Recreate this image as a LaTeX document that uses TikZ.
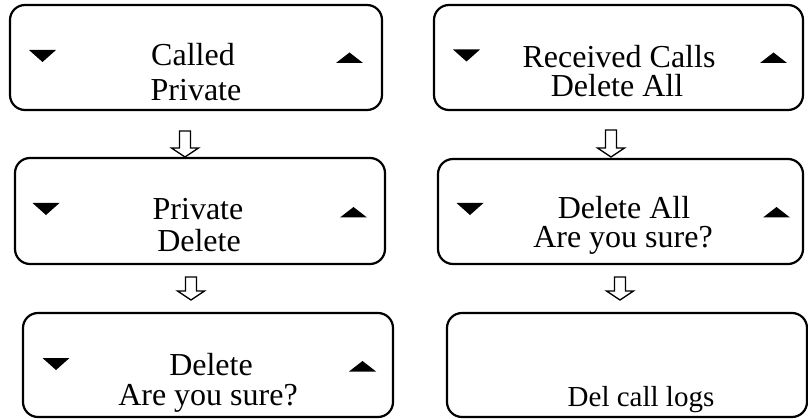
\documentclass[tikz,border=0pt]{standalone}
\usepackage{fontspec}
\setmainfont{Liberation Serif}
\begin{document}
\begin{tikzpicture}[x=1pt,y=-1pt,
  screen/.style={draw=black, line width=2.2pt, rounded corners=15pt, inner sep=0pt, outer sep=0pt},
  txt/.style={anchor=base, inner sep=0pt, font=\fontsize{32}{38}\selectfont},
  smalltxt/.style={anchor=base, inner sep=0pt, font=\fontsize{29}{34}\selectfont},
  arrline/.style={draw=black, line width=1.3pt, fill=white, line join=miter},
  pics/downtri/.style={code={\fill[black] (-13.5,-6) -- (13.5,-6) -- (0,6) -- cycle;}},
  pics/uptri/.style={code={\fill[black] (-13.5,5) -- (13.5,5) -- (0,-5.5) -- cycle;}},
  pics/downarr/.style={code={\draw[arrline] (-5.5,0) -- (5.5,0) -- (5.5,#1-9) -- (13.5,#1-9) -- (0,#1) -- (-13.5,#1-9) -- (-5.5,#1-9) -- cycle;}}
]
\useasboundingbox (0,0) rectangle (808,419);

% Row 1
\node[screen, minimum width=372pt, minimum height=105pt] (b1) at (196,57.5) {};
\node[screen, minimum width=369pt, minimum height=105pt] (b2) at (618.5,57.5) {};
% Row 2
\node[screen, minimum width=370pt, minimum height=106pt] (b3) at (200,211) {};
\node[screen, minimum width=365pt, minimum height=105pt] (b4) at (620.5,211.5) {};
% Row 3
\node[screen, minimum width=370pt, minimum height=104pt] (b5) at (208,365) {};
\node[screen, minimum width=360pt, minimum height=104pt] (b6) at (627,365) {};

% Texts
\node[txt] (t1a) at (193,66) {Called};
\node[txt] (t1b) at (196,101) {Private};
\node[txt] (t2a) at (619,68) {Received Calls};
\node[txt] (t2b) at (617,97) {Delete All};
\node[txt] (t3a) at (198,220) {Private};
\node[txt] (t3b) at (199,252) {Delete};
\node[txt] (t4a) at (624,219) {Delete All};
\node[txt] (t4b) at (623,248) {Are you sure?};
\node[txt] (t5a) at (211,375) {Delete};
\node[txt] (t5b) at (208,405) {Are you sure?};
\node[smalltxt] (t6a) at (641,406) {Del call logs};

% Triangles
\pic at (42.5,56) {downtri};
\pic at (349.5,58) {uptri};
\pic at (466.5,55.5) {downtri};
\pic at (773.5,58) {uptri};
\pic at (46,209) {downtri};
\pic at (353.5,212.5) {uptri};
\pic at (470,209) {downtri};
\pic at (776.5,212.5) {uptri};
\pic at (56,364) {downtri};
\pic at (362.5,366.5) {uptri};

% Block arrows
\pic at (185,131) {downarr=26};
\pic at (611,130) {downarr=27};
\pic at (191,277) {downarr=23};
\pic at (620,277) {downarr=23};
\end{tikzpicture}
\end{document}
